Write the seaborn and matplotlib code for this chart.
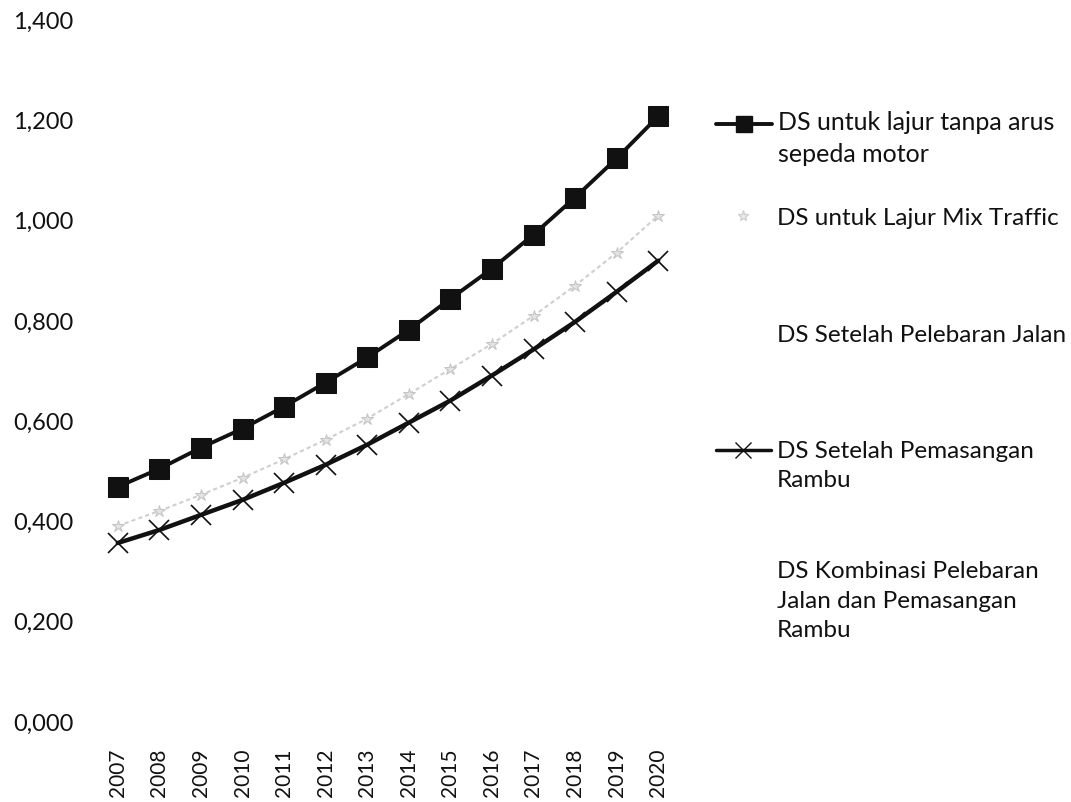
import matplotlib
matplotlib.use("Agg")
import matplotlib.pyplot as plt
from matplotlib.lines import Line2D
from matplotlib.legend_handler import HandlerLine2D
import seaborn as sns
import pandas as pd

years = [2007, 2008, 2009, 2010, 2011, 2012, 2013, 2014, 2015, 2016, 2017, 2018, 2019, 2020]
ds_tanpa_motor = [0.467, 0.503, 0.545, 0.583, 0.627, 0.675, 0.725, 0.780, 0.842, 0.902, 0.970, 1.044, 1.122, 1.206]
ds_mix_traffic = [0.389, 0.419, 0.451, 0.485, 0.522, 0.561, 0.603, 0.652, 0.702, 0.752, 0.808, 0.868, 0.934, 1.008]
ds_rambu = [0.355, 0.381, 0.411, 0.441, 0.475, 0.511, 0.551, 0.595, 0.639, 0.689, 0.741, 0.796, 0.856, 0.918]
labels = ["DS untuk lajur tanpa arus\nsepeda motor",
          "DS untuk Lajur Mix Traffic",
          "DS Setelah Pelebaran Jalan",
          "DS Setelah Pemasangan\nRambu",
          "DS Kombinasi Pelebaran\nJalan dan Pemasangan\nRambu"]
yticks = [0.0, 0.2, 0.4, 0.6, 0.8, 1.0, 1.2, 1.4]

sns.set_theme(style="white")
plt.rcParams['font.family'] = ['Lato', 'DejaVu Sans']

fig = plt.figure(figsize=(10.71, 8.03), dpi=100)
ax = fig.add_axes([97/1071, 1 - 722/803, (679-97)/1071, (722-20)/803])

df = pd.DataFrame({"year": years, "a": ds_tanpa_motor, "b": ds_mix_traffic, "c": ds_rambu})

sns.lineplot(data=df, x="year", y="b", ax=ax, color="#cfcfcf", lw=1.5, linestyle=(0, (2, 1.5)),
             marker="*", markersize=9, markeredgecolor="#c4c4c4", markerfacecolor="#e4e4e4")
sns.lineplot(data=df, x="year", y="c", ax=ax, color="#111111", lw=3.2,
             marker="x", markersize=14, markeredgewidth=1.2, markeredgecolor="#111111")
sns.lineplot(data=df, x="year", y="a", ax=ax, color="#111111", lw=2.8,
             marker="s", markersize=14.5, markeredgecolor="#111111", markerfacecolor="#111111")

ax.set_xlim(2006.5, 2020.5)
ax.set_ylim(0, 1.4)
ax.set_xticks(years)
ax.set_xticklabels([str(y) for y in years], rotation=90, fontsize=15)
ax.set_yticks(yticks)
ax.set_yticklabels([f"{v:.3f}".replace('.', ',') for v in yticks], fontsize=17)
ax.tick_params(axis='both', length=0, colors="#111111")
ax.tick_params(axis='y', pad=17)
ax.tick_params(axis='x', pad=19)
ax.set_xlabel("")
ax.set_ylabel("")
for s in ax.spines.values():
    s.set_visible(False)
ax.grid(False)


class ShiftedHandler(HandlerLine2D):
    def __init__(self, dy=0.0, **kw):
        super().__init__(**kw)
        self.dy = dy

    def create_artists(self, legend, orig_handle, xdescent, ydescent, width, height, fontsize, trans):
        arts = super().create_artists(legend, orig_handle, xdescent, ydescent, width, height, fontsize, trans)
        for a in arts:
            a.set_ydata([y + self.dy for y in a.get_ydata()])
        return arts


handles = [
    Line2D([], [], color="#111111", lw=2.8, marker="s", markersize=12),
    Line2D([], [], color="none", marker="*", markersize=8, markeredgecolor="#d0d0d0", markerfacecolor="#ececec"),
    Line2D([], [], color="none"),
    Line2D([], [], color="#111111", lw=2.5, marker="x", markersize=12, markeredgewidth=1),
    Line2D([], [], color="none"),
]
sizes = [18, 17.5, 17.5, 17.5, 17.5]
tops = [111, 208, 325, 441, 561]
line_step = 30.0  # px between text lines
for h, lab, top, fs in zip(handles, labels, tops, sizes):
    nlines = lab.count("\n") + 1
    dy = (nlines - 1) * line_step / 2 * 72 / 100
    leg = fig.legend([h], [lab], loc="upper left", bbox_to_anchor=(716/1071, 1 - top/803),
                     frameon=False, fontsize=fs, handlelength=2.25, handletextpad=0.25,
                     borderpad=0, borderaxespad=0,
                     handler_map={h: ShiftedHandler(dy=dy)})
    for t in leg.get_texts():
        t.set_linespacing(1.5)
        t.set_color("#111111")

fig.savefig("out.png", dpi=100, facecolor="white")
